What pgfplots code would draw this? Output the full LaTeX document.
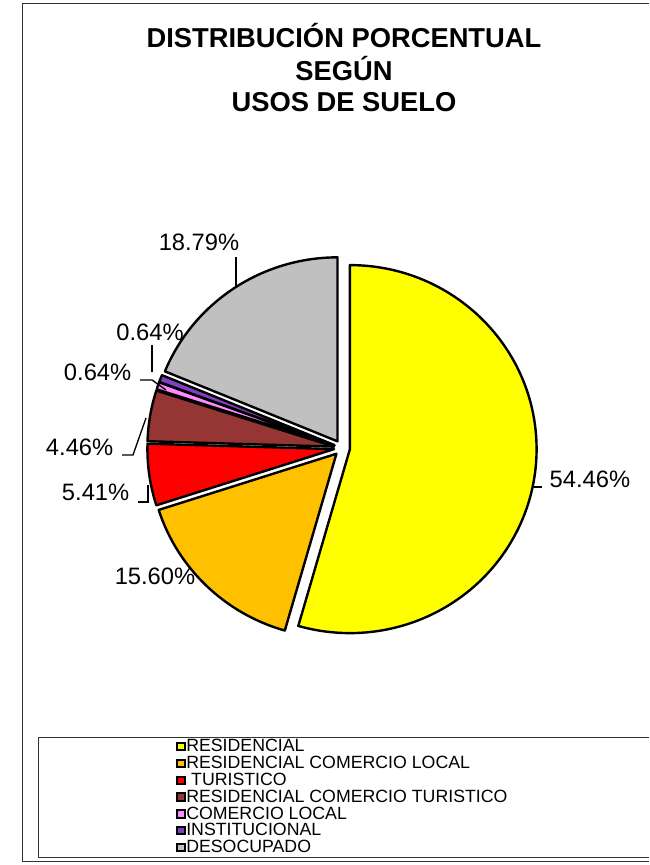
\documentclass[border=0pt]{standalone}
\usepackage{pgfplots}
\pgfplotsset{compat=1.18}
\usepackage{pgfplotstable}
\usetikzlibrary{calc}
\usepackage{fontspec}
\setmainfont{Liberation Sans}

\definecolor{cRes}{HTML}{FFFF00}
\definecolor{cRcl}{HTML}{FFC000}
\definecolor{cTur}{HTML}{FF0000}
\definecolor{cRct}{HTML}{963634}
\definecolor{cCom}{HTML}{FF8CFF}
\definecolor{cIns}{HTML}{8040C0}
\definecolor{cDes}{HTML}{C0C0C0}

\pgfplotstableread[col sep=comma]{
name,value,col
Residencial,54.46,cRes
Residencial comercio local,15.60,cRcl
Turistico,5.41,cTur
Residencial comercio turistico,4.46,cRct
Comercio local,0.64,cCom
Institucional,0.64,cIns
Desocupado,18.79,cDes
}\pietable

\begin{document}
\begin{tikzpicture}
\begin{axis}[scale only axis, width=486.75pt, height=648.75pt,
  xmin=0, xmax=649, ymin=0, ymax=865, hide axis, clip=false,
  at={(0,0)}, anchor=south west]
\path (axis cs:0,0) rectangle (axis cs:649,865);
% outer frame
\draw[line width=0.75pt, black!80] (axis cs:649,861) -- (axis cs:22,861) -- (axis cs:22,3) -- (axis cs:649,3);
% legend frame
\draw[line width=0.75pt, black!80] (axis cs:649,127) -- (axis cs:38,127) -- (axis cs:38,7) -- (axis cs:649,7);
% title
\begin{scope}[every node/.style={anchor=base, font=\bfseries\fontsize{20.5}{24}\selectfont}]
\node at (axis cs:344,817) {DISTRIBUCIÓN PORCENTUAL};
\node at (axis cs:344,784) {SEGÚN};
\node at (axis cs:344,753) {USOS DE SUELO};
\end{scope}
% pie slices
\pgfplotsextra{
  \pgfplotstablegetrowsof{\pietable}
  \pgfmathtruncatemacro{\nrows}{\pgfplotsretval-1}
  \xdef\cum{0}
  \foreach \i in {0,...,\nrows}{
    \pgfplotstablegetelem{\i}{value}\of\pietable \let\pv\pgfplotsretval
    \pgfplotstablegetelem{\i}{col}\of\pietable \let\pcol\pgfplotsretval
    \pgfmathsetmacro{\aone}{90-3.6*\cum}
    \pgfmathsetmacro{\atwo}{90-3.6*(\cum+\pv)}
    \pgfmathsetmacro{\amid}{(\aone+\atwo)/2}
    \filldraw[fill=\pcol, draw=black, line width=1.8pt, line join=round]
      ($(axis cs:342,417)+(\amid:6pt)$) -- ++({140pt*cos(\aone)},{138pt*sin(\aone)})
      arc[start angle=\aone, end angle=\atwo, x radius=140pt, y radius=138pt] -- cycle;
    \pgfmathsetmacro{\newcum}{\cum+\pv}
    \xdef\cum{\newcum}
  }
}
% leader lines
\draw[line width=1pt] (axis cs:533,378) -- (axis cs:542,378);
\draw[line width=1pt] (axis cs:138,363) -- (axis cs:148,363) -- (axis cs:148,380);
\draw[line width=1pt] (axis cs:122,410) -- (axis cs:133,410) -- (axis cs:146,447);
\draw[line width=1pt] (axis cs:140,485) -- (axis cs:152,485) -- (axis cs:166,475);
\draw[line width=1pt] (axis cs:152,520) -- (axis cs:152,493);
\draw[line width=1pt] (axis cs:236,608) -- (axis cs:236,578);
% data labels
\begin{scope}[every node/.style={font=\fontsize{17.8}{21}\selectfont}]
\node[anchor=base west] at (axis cs:545,377) {54.46\%};
\node[anchor=base] at (axis cs:155,280) {15.60\%};
\node[anchor=base east] at (axis cs:134,364) {5.41\%};
\node[anchor=base east] at (axis cs:118,409) {4.46\%};
\node[anchor=base east] at (axis cs:136,484) {0.64\%};
\node[anchor=base] at (axis cs:150,524) {0.64\%};
\node[anchor=base] at (axis cs:199,614) {18.79\%};
\end{scope}
% legend
\begin{scope}[every node/.style={font=\fontsize{13.3}{15}\selectfont, anchor=base west, inner sep=0pt}]
\filldraw[fill=cRes, line width=1.5pt] (axis cs:177,114.5) rectangle (axis cs:184.5,122);
\node at (axis cs:186,113) {RESIDENCIAL};
\filldraw[fill=cRcl, line width=1.5pt] (axis cs:177,97.7) rectangle (axis cs:184.5,105.2);
\node at (axis cs:186,96.2) {RESIDENCIAL COMERCIO LOCAL};
\filldraw[fill=cTur, line width=1.5pt] (axis cs:177,80.9) rectangle (axis cs:184.5,88.4);
\node at (axis cs:186,79.4) {\ TURISTICO};
\filldraw[fill=cRct, line width=1.5pt] (axis cs:177,64.1) rectangle (axis cs:184.5,71.6);
\node at (axis cs:186,62.6) {RESIDENCIAL COMERCIO TURISTICO};
\filldraw[fill=cCom, line width=1.5pt] (axis cs:177,47.3) rectangle (axis cs:184.5,54.8);
\node at (axis cs:186,45.8) {COMERCIO LOCAL};
\filldraw[fill=cIns, line width=1.5pt] (axis cs:177,30.5) rectangle (axis cs:184.5,38);
\node at (axis cs:186,29) {INSTITUCIONAL};
\filldraw[fill=cDes, line width=1.5pt] (axis cs:177,13.7) rectangle (axis cs:184.5,21.2);
\node at (axis cs:186,12.2) {DESOCUPADO};
\end{scope}
\end{axis}
\end{tikzpicture}
\end{document}
